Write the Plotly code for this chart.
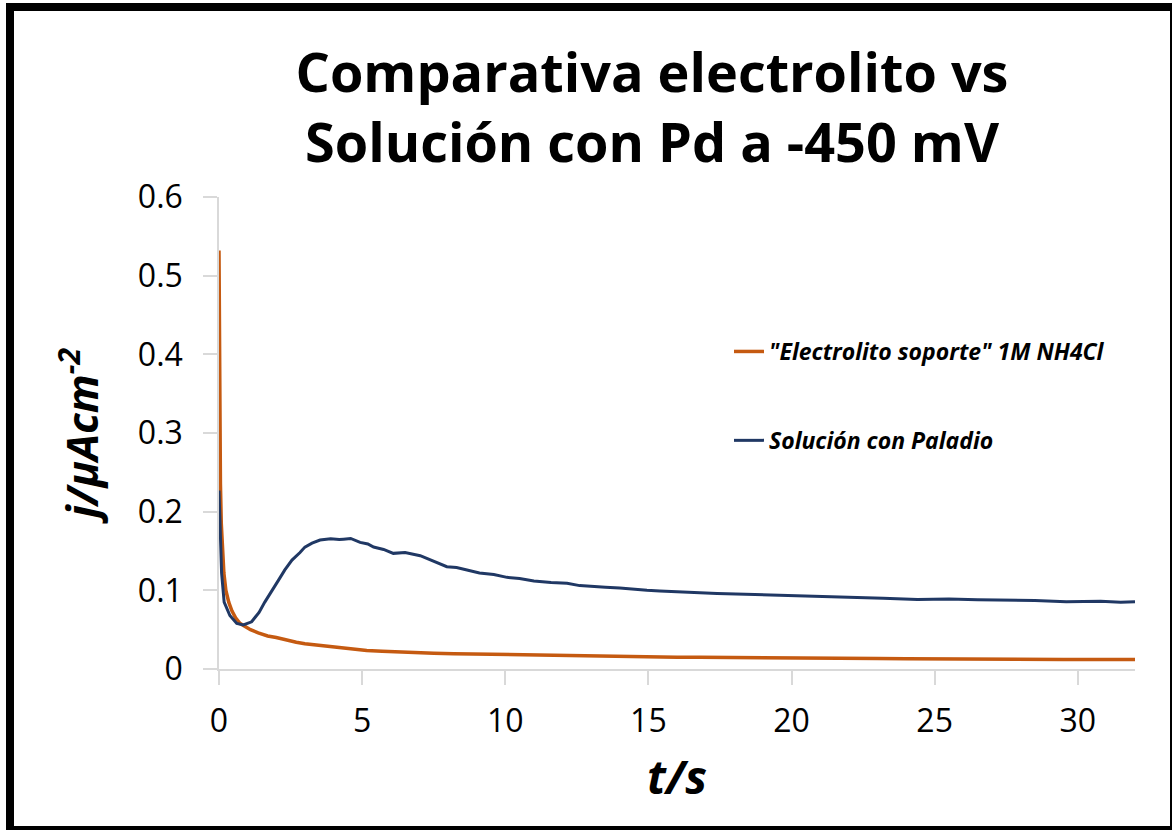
import plotly.graph_objects as go

# ---- data ----
t_elec = [0.0, 0.01, 0.03, 0.05, 0.08, 0.12, 0.17, 0.24, 0.34, 0.45, 0.58, 0.73, 0.9, 1.1,
          1.37, 1.7, 2.0, 2.3, 2.7, 3.0, 3.35, 3.7, 4.2, 4.6, 5.16, 5.7, 6.3, 6.9, 7.5,
          8.2, 9.0, 9.8, 10.6, 11.4, 12.2, 13.0, 14.0, 15.0, 16.0, 16.8, 18.0, 19.0,
          20.0, 21.0, 22.0, 23.0, 24.0, 25.5, 26.5, 27.5, 28.5, 29.5, 30.5, 31.3, 32.0]
j_elec = [0.532, 0.42, 0.30, 0.235, 0.185, 0.15, 0.122, 0.10, 0.085, 0.074, 0.065, 0.058, 0.054,
          0.050, 0.046, 0.042, 0.040, 0.037, 0.034, 0.032, 0.0305, 0.029, 0.027, 0.026,
          0.0235, 0.0225, 0.0215, 0.0205, 0.020, 0.0195, 0.019, 0.0185, 0.018, 0.0172,
          0.0165, 0.0162, 0.0158, 0.015, 0.0148, 0.0148, 0.0143, 0.014, 0.0138, 0.0136,
          0.0134, 0.0132, 0.013, 0.0125, 0.0126, 0.0123, 0.0122, 0.0121, 0.012, 0.0122, 0.012]

t_pd = [0.0, 0.02, 0.04, 0.09, 0.18, 0.38, 0.62, 0.85, 1.14, 1.4, 1.6, 1.85, 2.08, 2.3, 2.55,
        2.83, 3.0, 3.25, 3.53, 3.9, 4.2, 4.35, 4.6, 4.93, 5.2, 5.4, 5.75, 6.09, 6.5, 7.03,
        7.5, 7.96, 8.3, 8.66, 9.1, 9.6, 10.06, 10.5, 11.0, 11.6, 12.16, 12.6, 13.08, 13.5,
        14.0, 14.5, 14.95, 15.4, 15.9, 16.8, 17.4, 18.5, 19.7, 21.0, 22.06, 23.2, 24.4,
        25.5, 26.5, 27.3, 28.5, 29.6, 30.8, 31.5, 32.0]
j_pd = [0.227, 0.205, 0.185, 0.122, 0.085, 0.068, 0.058, 0.056, 0.060, 0.072, 0.085, 0.099,
        0.113, 0.126, 0.1385, 0.148, 0.155, 0.160, 0.164, 0.1655, 0.1645, 0.165, 0.166,
        0.161, 0.159, 0.155, 0.152, 0.147, 0.148, 0.144, 0.137, 0.130, 0.129, 0.126,
        0.122, 0.120, 0.1165, 0.115, 0.112, 0.110, 0.109, 0.106, 0.1046, 0.104, 0.103,
        0.101, 0.100, 0.099, 0.098, 0.097, 0.096, 0.095, 0.094, 0.092, 0.091, 0.090,
        0.0885, 0.089, 0.088, 0.0877, 0.087, 0.0855, 0.086, 0.085, 0.0855]

name_elec = '"Electrolito soporte" 1M NH4Cl'
name_pd = 'Solución con Paladio'
title_text = 'Comparativa electrolito vs<br>Solución con Pd a -450 mV'
x_ticks = [0, 5, 10, 15, 20, 25, 30]
y_ticks = [0, 0.1, 0.2, 0.3, 0.4, 0.5, 0.6]

# ---- layout constants (pixels) ----
W, H = 1174, 830
L, R, T, B = 219, 1135, 197, 669

def px(x):
    return (x - L) / (R - L)

def py(y):
    return (B - y) / (B - T)

FONT = "Open Sans"
ORANGE = "#C55A11"
NAVY = "#203864"
AX = "#D9D9D9"

fig = go.Figure()
fig.add_trace(go.Scatter(x=t_elec, y=j_elec, mode="lines", name=name_elec,
                         line=dict(color=ORANGE, width=3.5), legendgroup="a"))
fig.add_trace(go.Scatter(x=t_pd, y=j_pd, mode="lines", name=name_pd,
                         line=dict(color=NAVY, width=3), legendgroup="b"))

fig.update_layout(
    width=W, height=H,
    margin=dict(l=L, r=W - R, t=T, b=H - B, pad=0),
    paper_bgcolor="white", plot_bgcolor="white",
    font=dict(family=FONT, color="black"),
    title=dict(text=title_text, x=652 / W, xanchor="center", y=1 - 92 / H, yanchor="middle",
               font=dict(family=FONT, size=54, color="black", weight="bold")),
    showlegend=True,
    legend=dict(x=px(729), y=py(330), xanchor="left", yanchor="top",
                bgcolor="rgba(0,0,0,0)", tracegroupgap=56, itemwidth=30,
                font=dict(family=FONT, size=23, color="black", style="italic", weight="bold")),
    xaxis=dict(range=[0, 32], tickvals=x_ticks, showgrid=False, zeroline=False,
               showline=True, linecolor=AX, linewidth=1.5,
               ticks="outside", ticklen=14, tickcolor=AX, tickwidth=1.5,
               tickfont=dict(family=FONT, size=32, color="black"), ticklabelstandoff=9,
               title=dict(text="<b><i>t/s</i></b>", standoff=22,
                          font=dict(family=FONT, size=46, color="black"))),
    yaxis=dict(range=[0, 0.6], tickvals=y_ticks, showgrid=False, zeroline=False,
               showline=True, linecolor=AX, linewidth=1.5,
               ticks="outside", ticklen=14, tickcolor=AX, tickwidth=1.5,
               tickfont=dict(family=FONT, size=32, color="black"), ticklabelstandoff=14,
               title=dict(text="<b><i>j/μAcm<sup>-2</sup></i></b>", standoff=26,
                          font=dict(family=FONT, size=43, color="black"))),
)

# outer frame of the chart
frame = [(6, 3, 14, 830), (6, 3, 1172, 11), (1170, 3, 1172, 830), (6, 826, 1172, 830)]
for x0, y0, x1, y1 in frame:
    fig.add_shape(type="rect", xref="paper", yref="paper",
                  x0=px(x0), x1=px(x1), y0=py(y1), y1=py(y0),
                  fillcolor="black", line=dict(width=0), layer="above")

fig.write_html("out.html", config={"displayModeBar": False},
               post_script="document.body.style.margin='0';document.body.style.overflow='hidden';")
